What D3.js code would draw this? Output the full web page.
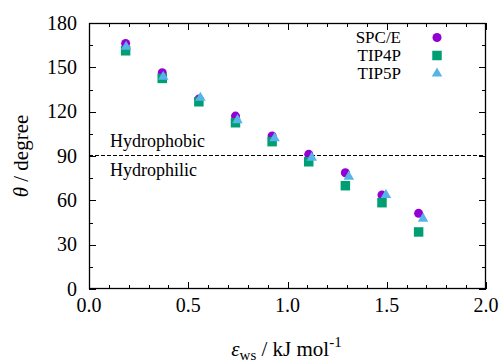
<!DOCTYPE html>
<html><head><meta charset="utf-8">
<script src="https://cdn.jsdelivr.net/npm/d3@7"></script>
<style>body{margin:0;background:#fff}svg{display:block}</style>
</head><body>
<script>
const xSPCE = [0.1845,0.369,0.5535,0.738,0.9225,1.107,1.2915,1.476,1.6605];
const ySPCE = [166.2,146.3,128.5,117,103.5,91.1,78.7,63.6,51.2];
const xTIP4P = [0.1845,0.369,0.5535,0.738,0.9225,1.107,1.2915,1.476,1.6605];
const yTIP4P = [161.2,142.5,126.7,112.5,99.7,86.1,69.9,58.4,38.6];
const xTIP5P = [0.187,0.374,0.561,0.748,0.935,1.122,1.309,1.496,1.683];
const yTIP5P = [163.9,143.6,129.4,114.3,102,88.8,76,63.6,47.6];
const xTicks = [0,0.5,1.0,1.5,2.0];
const yTicks = [0,30,60,90,120,150,180];
const seriesNames = ["SPC/E","TIP4P","TIP5P"];
const colors = ["#9400d3","#009e73","#56b4e9"];

const FONT = '"Liberation Serif"';
const W=502,H=363, L=89,R=486,T=23,B=289;
const svg=d3.select("body").append("svg").attr("width",W).attr("height",H);
const txt=(sel)=>sel.append("text").style("font-family",FONT).attr("fill","#000");
const x=d3.scaleLinear().domain([0,2]).range([L,R]);
const y=d3.scaleLinear().domain([0,180]).range([B,T]);

const g=svg.append("g").attr("stroke","#000").attr("stroke-width",1);
const xMinor=d3.range(0,2.0001,0.1), yMinor=d3.range(0,180.001,15);
xMinor.forEach((v,i)=>{const len=(i%5===0)?7:4; const px=Math.round(x(v))+0.5;
  g.append("line").attr("x1",px).attr("x2",px).attr("y1",B).attr("y2",B-len);
  g.append("line").attr("x1",px).attr("x2",px).attr("y1",T).attr("y2",T+len);});
yMinor.forEach((v,i)=>{const len=(i%2===0)?7:4; const py=Math.round(y(v))+0.5;
  g.append("line").attr("x1",L).attr("x2",L+len).attr("y1",py).attr("y2",py);
  g.append("line").attr("x1",R).attr("x2",R-len).attr("y1",py).attr("y2",py);});
svg.append("rect").attr("x",L+0.5).attr("y",T+0.5).attr("width",R-L-1).attr("height",B-T-1)
  .attr("fill","none").attr("stroke","#000").attr("stroke-width",1.3);

xTicks.forEach(d=>txt(svg).attr("x",x(d)).attr("y",B+23).attr("text-anchor","middle").attr("font-size",20).text(d.toFixed(1)));
yTicks.forEach(d=>txt(svg).attr("x",L-12).attr("y",y(d)+6.5).attr("text-anchor","end").attr("font-size",20).text(d));

const xl=txt(svg).attr("x",(L+R)/2-1).attr("y",356).attr("text-anchor","middle").attr("font-size",21);
xl.append("tspan").attr("font-style","italic").text("ε");
xl.append("tspan").attr("font-size",15).attr("dy",4).text("ws");
xl.append("tspan").attr("dy",-4).text(" / kJ mol");
xl.append("tspan").attr("font-size",15).attr("dy",-9).text("-1");
const yl=txt(svg).attr("transform","translate(28,156) rotate(-90)").attr("text-anchor","middle").attr("font-size",21);
yl.append("tspan").attr("font-style","italic").text("θ");
yl.append("tspan").text(" / degree");

svg.append("line").attr("x1",L).attr("x2",R).attr("y1",Math.round(y(90))-0.5).attr("y2",Math.round(y(90))-0.5)
  .attr("stroke","#000").attr("stroke-dasharray","4,2").attr("stroke-width",1);
txt(svg).attr("x",110).attr("y",147).attr("font-size",18).text("Hydrophobic");
txt(svg).attr("x",110).attr("y",175.5).attr("font-size",18).text("Hydrophilic");

const sym=[d3.symbolCircle,d3.symbolSquare,d3.symbolTriangle];
const sizes=[64,90,48];
const data=[[xSPCE,ySPCE],[xTIP4P,yTIP4P],[xTIP5P,yTIP5P]];
data.forEach(([xs,ys],k)=>{
  svg.append("g").selectAll("path").data(xs.map((v,i)=>[v,ys[i]])).join("path")
    .attr("d",d3.symbol(sym[k],sizes[k])).attr("transform",d=>`translate(${x(d[0])},${y(d[1])})`)
    .attr("fill",colors[k]);
});
seriesNames.forEach((n,k)=>{
  const yy=37.5+k*18;
  txt(svg).attr("x",401).attr("y",yy+5.5).attr("text-anchor","end").attr("font-size",17).text(n);
  svg.append("path").attr("d",d3.symbol(sym[k],sizes[k])).attr("transform",`translate(437,${yy})`).attr("fill",colors[k]);
});
</script>
</body></html>
